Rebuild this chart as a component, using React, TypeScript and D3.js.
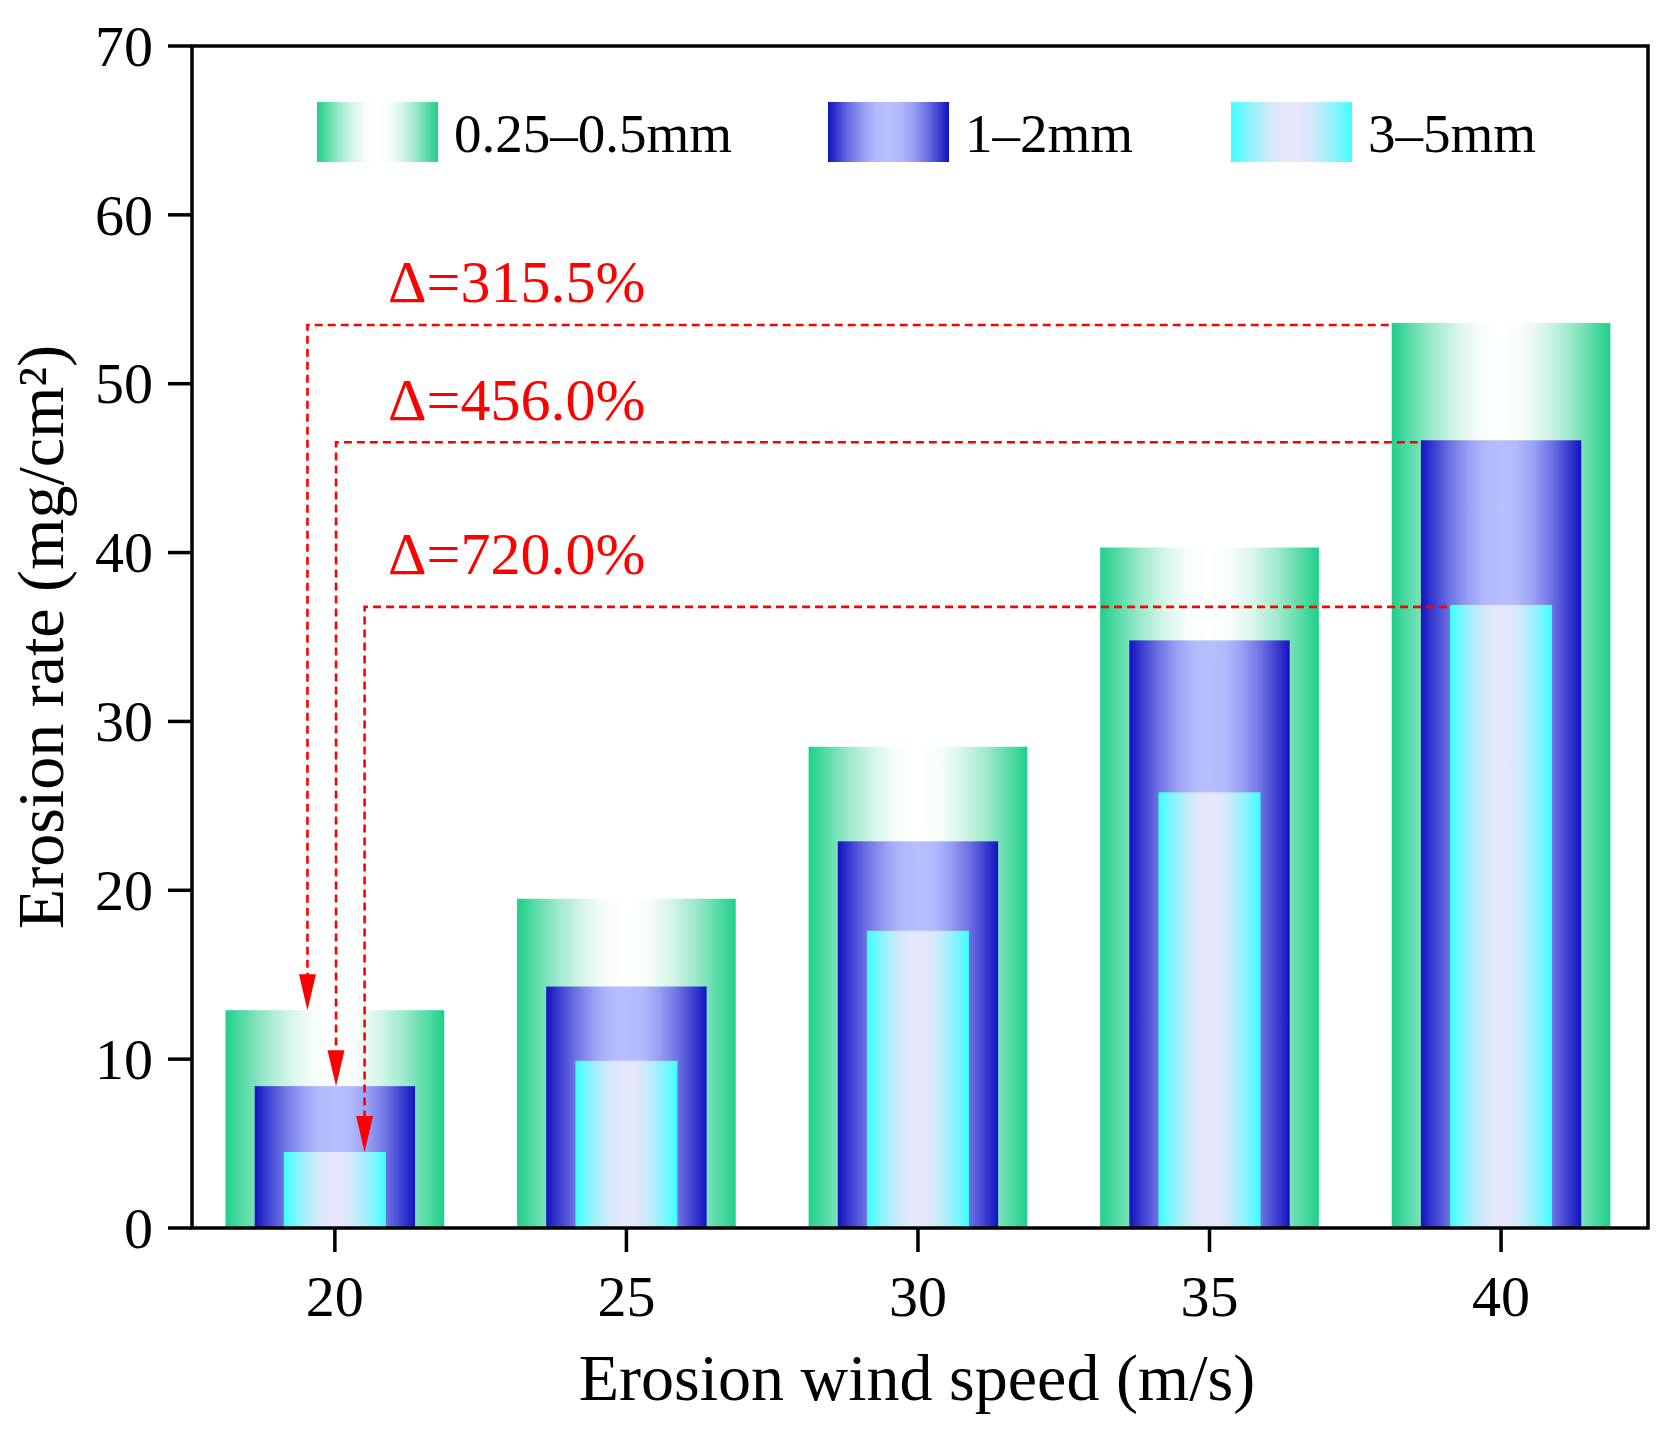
import React, { useEffect, useRef } from 'react';
import * as d3 from 'd3';

const windSpeeds = [20, 25, 30, 35, 40];
const fineSand = [12.9, 19.5, 28.5, 40.3, 53.6];   // 0.25–0.5mm
const mediumSand = [8.4, 14.3, 22.9, 34.8, 46.65]; // 1–2mm
const coarseSand = [4.5, 9.9, 17.6, 25.8, 36.9];   // 3–5mm
const seriesNames = ['0.25–0.5mm', '1–2mm', '3–5mm'];
const yTicks = [0, 10, 20, 30, 40, 50, 60, 70];
const deltaLabels = ['Δ=315.5%', 'Δ=456.0%', 'Δ=720.0%'];

const WIDTH = 1673;
const HEIGHT = 1440;
const PLOT = { left: 192, right: 1648, top: 46, bottom: 1228 };
const FONT = '"Liberation Serif", "Times New Roman", serif';

const GRADIENTS = [
    { id: 'grad-green', edge: '#1fcf8a', mid: '#ffffff' },
    { id: 'grad-blue', edge: '#1212c0', mid: '#b8c0ff' },
    { id: 'grad-cyan', edge: '#3dffff', mid: '#e8e6fa' },
];
// edge -> middle -> edge, eased so the light part is wider
const GRADIENT_PROFILE: [number, number][] = [
    [0, 0], [0.08, 0.25], [0.18, 0.55], [0.3, 0.82], [0.4, 0.96], [0.5, 1],
    [0.6, 0.96], [0.7, 0.82], [0.82, 0.55], [0.92, 0.25], [1, 0],
];
const BAR_WIDTHS = [3.75, 2.75, 1.75];

const App: React.FC = () => {
    const svgRef = useRef<SVGSVGElement | null>(null);

    useEffect(() => {
        const svg = d3.select(svgRef.current);
        svg.selectAll('*').remove();

        const x = d3.scaleLinear().domain([17.55, 42.52]).range([PLOT.left, PLOT.right]);
        const y = d3.scaleLinear().domain([0, 70]).range([PLOT.bottom, PLOT.top]);

        const defs = svg.append('defs');
        GRADIENTS.forEach(g => {
            const mix = d3.interpolateRgb(g.edge, g.mid);
            defs.append('linearGradient')
                .attr('id', g.id)
                .attr('x1', '0%').attr('y1', '0%')
                .attr('x2', '100%').attr('y2', '0%')
                .selectAll('stop')
                .data(GRADIENT_PROFILE)
                .enter()
                .append('stop')
                .attr('offset', d => `${d[0] * 100}%`)
                .attr('stop-color', d => mix(d[1]));
        });

        const series = [fineSand, mediumSand, coarseSand];

        // bars, widest in the back
        series.forEach((values, si) => {
            const w = BAR_WIDTHS[si];
            svg.append('g')
                .selectAll('rect')
                .data(values)
                .enter()
                .append('rect')
                .attr('x', (_, i) => x(windSpeeds[i] - w / 2))
                .attr('y', d => y(d))
                .attr('width', (_, i) => x(windSpeeds[i] + w / 2) - x(windSpeeds[i] - w / 2))
                .attr('height', d => y(0) - y(d))
                .attr('fill', `url(#${GRADIENTS[si].id})`);
        });

        // delta annotations
        const last = windSpeeds.length - 1;
        const offsets = [-0.47, 0.02, 0.51];
        const ann = svg.append('g');
        series.forEach((values, si) => {
            const vx = x(windSpeeds[0] + offsets[si]);
            const yTop = y(values[last]) + 2;
            const yEnd = y(values[0]);
            const xEnd = x(windSpeeds[last] - BAR_WIDTHS[si] / 2) - 3;
            const headLen = 36;
            ann.append('path')
                .attr('d', `M${xEnd},${yTop}H${vx}V${yEnd - headLen + 2}`)
                .attr('fill', 'none')
                .attr('stroke', '#ff0000')
                .attr('stroke-width', 2.6)
                .attr('stroke-dasharray', '8,5');
            ann.append('path')
                .attr('d', `M${vx - 8.5},${yEnd - headLen}L${vx + 8.5},${yEnd - headLen}L${vx},${yEnd}Z`)
                .attr('fill', '#ff0000');
        });

        const labelBaselines = [301.7, 420, 574.3];
        deltaLabels.forEach((t, i) => {
            svg.append('text')
                .attr('x', 388)
                .attr('y', labelBaselines[i])
                .attr('font-family', FONT)
                .attr('font-size', 60)
                .attr('fill', '#ff0000')
                .text(t);
        });

        // frame
        const axis = svg.append('g').attr('stroke', '#000').attr('stroke-width', 3.5);
        axis.append('rect')
            .attr('x', PLOT.left).attr('y', PLOT.top)
            .attr('width', PLOT.right - PLOT.left)
            .attr('height', PLOT.bottom - PLOT.top)
            .attr('fill', 'none');

        axis.selectAll('line.yt')
            .data(yTicks)
            .enter()
            .append('line')
            .attr('x1', PLOT.left - 24).attr('x2', PLOT.left)
            .attr('y1', d => y(d)).attr('y2', d => y(d));

        axis.selectAll('line.xt')
            .data(windSpeeds)
            .enter()
            .append('line')
            .attr('x1', d => x(d)).attr('x2', d => x(d))
            .attr('y1', PLOT.bottom).attr('y2', PLOT.bottom + 24);

        svg.append('g')
            .selectAll('text')
            .data(yTicks)
            .enter()
            .append('text')
            .attr('x', 153)
            .attr('y', d => y(d))
            .attr('dy', '0.34em')
            .attr('text-anchor', 'end')
            .attr('font-family', FONT)
            .attr('font-size', 58)
            .text(d => d);

        svg.append('g')
            .selectAll('text')
            .data(windSpeeds)
            .enter()
            .append('text')
            .attr('x', d => x(d))
            .attr('y', 1316)
            .attr('text-anchor', 'middle')
            .attr('font-family', FONT)
            .attr('font-size', 58)
            .text(d => d);

        // axis titles
        svg.append('text')
            .attr('x', 917)
            .attr('y', 1400)
            .attr('text-anchor', 'middle')
            .attr('font-family', FONT)
            .attr('font-size', 66)
            .text('Erosion wind speed (m/s)');

        svg.append('text')
            .attr('transform', 'translate(63,637) rotate(-90)')
            .attr('text-anchor', 'middle')
            .attr('font-family', FONT)
            .attr('font-size', 66)
            .text('Erosion rate (mg/cm²)');

        // legend
        const legendX = [317, 828, 1231];
        const legend = svg.append('g');
        seriesNames.forEach((name, i) => {
            legend.append('rect')
                .attr('x', legendX[i]).attr('y', 102)
                .attr('width', 121).attr('height', 60)
                .attr('fill', `url(#${GRADIENTS[i].id})`);
            legend.append('text')
                .attr('x', legendX[i] + 137)
                .attr('y', 152)
                .attr('font-family', FONT)
                .attr('font-size', 55)
                .text(name);
        });
    }, []);

    return (
        <svg
            ref={svgRef}
            width={WIDTH}
            height={HEIGHT}
            style={{ position: 'absolute', left: 0, top: 0, background: '#fff' }}
        />
    );
};

export default App;
